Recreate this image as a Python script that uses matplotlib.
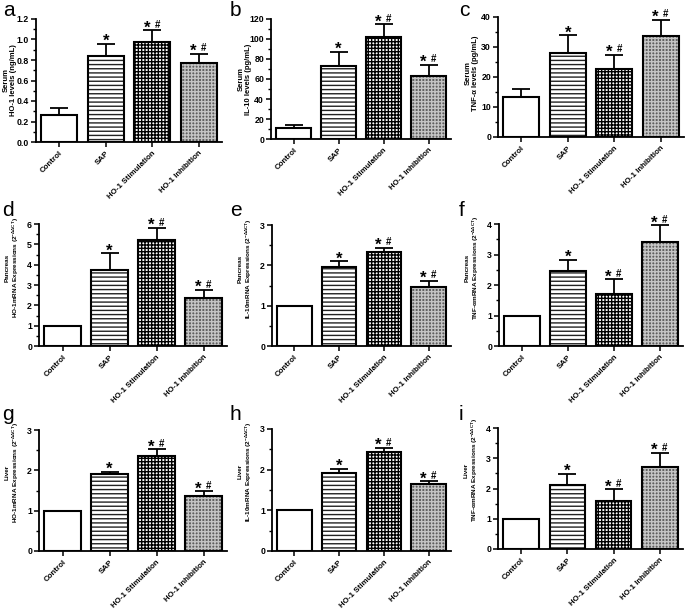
import matplotlib
matplotlib.use("Agg")
import matplotlib.pyplot as plt
from matplotlib.ticker import MultipleLocator, FormatStrFormatter
import numpy as np

plt.rcParams['font.family'] = ['Liberation Sans', 'DejaVu Sans']
plt.rcParams['mathtext.fontset'] = 'custom'
plt.rcParams['mathtext.rm'] = 'Liberation Sans:bold'
plt.rcParams['mathtext.it'] = 'Liberation Sans:bold'
plt.rcParams['mathtext.bf'] = 'Liberation Sans:bold'
plt.rcParams['hatch.linewidth'] = 1.0

categories = ["Control", "SAP", "HO-1 Stimulation", "HO-1 Inhibition"]
sig_labels = ["", "*", "*#", "*#"]

means_a = [0.26, 0.84, 0.975, 0.77]
err_a = [0.075, 0.12, 0.115, 0.09]
means_b = [11, 73, 101.7, 63]
err_b = [3.3, 14.4, 13, 11]
means_c = [13.4, 28.1, 22.7, 33.6]
err_c = [2.6, 5.8, 4.8, 5.5]
means_d = [1.0, 3.74, 5.21, 2.34]
err_d = [0, 0.82, 0.59, 0.41]
means_e = [1.0, 1.95, 2.32, 1.47]
err_e = [0, 0.15, 0.12, 0.15]
means_f = [1.0, 2.47, 1.70, 3.41]
err_f = [0, 0.35, 0.49, 0.55]
means_g = [1.0, 1.90, 2.35, 1.36]
err_g = [0, 0.06, 0.17, 0.12]
means_h = [1.0, 1.93, 2.43, 1.64]
err_h = [0, 0.09, 0.10, 0.07]
means_i = [1.0, 2.11, 1.60, 2.72]
err_i = [0, 0.37, 0.37, 0.45]

ylabels = [
    "Serum\nHO-1 levels (ng/mL)",
    "Serum\nIL-10 levels (pg/mL)",
    "Serum\nTNF-\u03b1 levels (pg/mL)",
    "Pancreas\nHO-1mRNA Expressions (2$^{-\u0394\u0394CT}$)",
    "Pancreas\nIL-10mRNA Expressions (2$^{-\u0394\u0394CT}$)",
    "Pancreas\nTNF-\u03b1mRNA Expressions (2$^{-\u0394\u0394CT}$)",
    "Liver\nHO-1mRNA Expressions (2$^{-\u0394\u0394CT}$)",
    "Liver\nIL-10mRNA Expressions (2$^{-\u0394\u0394CT}$)",
    "Liver\nTNF-\u03b1mRNA Expressions (2$^{-\u0394\u0394CT}$)",
]
panel_letters = ["a", "b", "c", "d", "e", "f", "g", "h", "i"]
ylims = [1.2, 120, 40, 6, 3, 4, 3, 3, 4]
majors = [0.2, 20, 10, 1, 1, 1, 1, 1, 1]
minors = [0.1, 10, 5, 0.5, 0.5, 0.5, 0.5, 0.5, 0.5]
fmts = ["%.1f", "%d", "%d", "%d", "%d", "%d", "%d", "%d", "%d"]

all_means = [means_a, means_b, means_c, means_d, means_e, means_f, means_g, means_h, means_i]
all_errs = [err_a, err_b, err_c, err_d, err_e, err_f, err_g, err_h, err_i]

W, H = 685, 610
# (left, right, top, bottom) in pixels
boxes = [
    (36, 222, 19, 142), (271, 451, 19, 139), (498, 684, 17, 137),
    (39, 227, 224, 346), (272, 451, 225, 346), (499, 683, 224, 346),
    (39, 227, 430, 551), (272, 451, 429, 551), (498, 683, 428, 549),
]
label_y = [0.5, 0.5, 0.53, 0.64, 0.64, 0.64, 0.65, 0.65, 0.65]
label_fs = [5.5, 5.5, 5.5, 4.6, 4.6, 4.6, 4.6, 4.6, 4.6]
label_dx = [-19, -19, -19, -18, -18, -18, -18, -18, -18]
letter_pos = [(3, 16), (230, 16), (459, 16), (2, 216), (230, 216), (459, 216), (2, 420), (230, 420), (459, 420)]

# bar styles: face, hatch, hatch colour
styles = [
    ("white", None, "black"),
    ("white", "----", "#222222"),
    ("white", "+++++", "black"),
    ("#5e5e5e", "+++++", "#c4c4c4"),
]

fig = plt.figure(figsize=(W / 100, H / 100), dpi=100)
x = np.arange(len(categories))
bw = 0.77

for k in range(9):
    l, r, t, b = boxes[k]
    ax = fig.add_axes([l / W, 1 - b / H, (r - l) / W, (b - t) / H])
    means = np.array(all_means[k])
    errs = np.array(all_errs[k])
    for j in range(len(categories)):
        fc, hatch, hc = styles[j]
        ax.bar(x[j], means[j], width=bw, color=fc, edgecolor=hc, hatch=hatch, linewidth=0, zorder=2)
        ax.bar(x[j], means[j], width=bw, fill=False, edgecolor="black", linewidth=1.5, zorder=3)
    mask = errs > 0
    ax.errorbar(x[mask], means[mask], yerr=[np.zeros(mask.sum()), errs[mask]], fmt="none",
                ecolor="black", elinewidth=1.3, capsize=6.5, capthick=1.3, zorder=4)
    for j in range(len(categories)):
        top = means[j] + errs[j]
        s = sig_labels[j]
        if s == "*":
            ax.annotate("*", (x[j], top), xytext=(0, -1.5), textcoords="offset points",
                        ha="center", va="baseline", fontsize=12, fontweight="bold", zorder=5)
        elif s == "*#":
            ax.annotate("*", (x[j], top), xytext=(-4, -1.5), textcoords="offset points",
                        ha="center", va="baseline", fontsize=12, fontweight="bold", zorder=5)
            ax.annotate("#", (x[j], top), xytext=(3.5, 1.8), textcoords="offset points",
                        ha="center", va="baseline", fontsize=7, fontweight="bold", zorder=5)
    ax.set_xlim(-0.5, 3.5)
    ax.set_ylim(0, ylims[k])
    ax.yaxis.set_major_locator(MultipleLocator(majors[k]))
    ax.yaxis.set_minor_locator(MultipleLocator(minors[k]))
    ax.yaxis.set_major_formatter(FormatStrFormatter(fmts[k]))
    ax.set_xticks(x)
    ax.set_xticklabels(categories, rotation=45, ha="right", rotation_mode="anchor",
                       fontsize=5.7, fontweight="bold")
    for lab in ax.get_yticklabels():
        lab.set_fontweight("bold")
    ax.tick_params(axis="y", which="major", labelsize=6.3, length=3.5, width=1.1, pad=1.5)
    ax.tick_params(axis="y", which="minor", length=2, width=1.0)
    ax.tick_params(axis="x", which="major", length=3.5, width=1.1, pad=2)
    for side in ("top", "right"):
        ax.spines[side].set_visible(False)
    for side in ("left", "bottom"):
        ax.spines[side].set_linewidth(1.3)
    ax.set_ylabel(ylabels[k], fontsize=label_fs[k], fontweight="bold", linespacing=1.1)
    ax.yaxis.set_label_coords(label_dx[k] / (r - l), label_y[k])
    lx, ly = letter_pos[k]
    fig.text(lx / W, 1 - ly / H, panel_letters[k], fontsize=15, ha="left", va="baseline")

fig.savefig("out.png", dpi=100)
